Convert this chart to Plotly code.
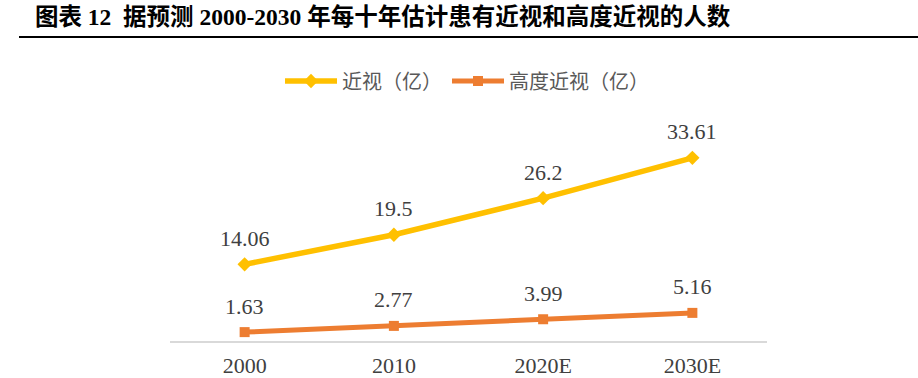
import plotly.graph_objects as go

categories = ["2000", "2010", "2020E", "2030E"]
myopia = [14.06, 19.5, 26.2, 33.61]
high_myopia = [1.63, 2.77, 3.99, 5.16]
series_names = ["近视（亿）", "高度近视（亿）"]
title_text = "图表 12  据预测 2000-2030 年每十年估计患有近视和高度近视的人数"

W, H = 918, 378
L, R, T, B = 170, 151, 123, 37
pw, ph = W - L - R, H - T - B

YELLOW = "#FFC000"
ORANGE = "#ED7D31"
LABEL = "#404040"

fig = go.Figure()
fig.add_trace(go.Scatter(
    x=categories, y=myopia, name=series_names[0], mode="lines+markers",
    line=dict(color=YELLOW, width=5.5),
    marker=dict(symbol="diamond", size=11, color=YELLOW),
))
fig.add_trace(go.Scatter(
    x=categories, y=high_myopia, name=series_names[1], mode="lines+markers",
    line=dict(color=ORANGE, width=5),
    marker=dict(symbol="square", size=10, color=ORANGE),
))

annotations = []
for vals in (myopia, high_myopia):
    for i, v in enumerate(vals):
        annotations.append(dict(
            x=i, y=v, xref="x", yref="y", text=f"{v:g}", showarrow=False,
            yshift=26, font=dict(family="Liberation Serif", size=22, color=LABEL),
        ))

fig.update_layout(
    width=W, height=H,
    margin=dict(l=L, r=R, t=T, b=B, autoexpand=False),
    paper_bgcolor="white", plot_bgcolor="white",
    title=dict(
        text=title_text, x=35 / W, xanchor="left", y=1 - 17 / H, yanchor="middle",
        font=dict(family="Liberation Serif, Noto Sans CJK SC", size=23.5, color="#000000",
                  weight="bold"),
    ),
    showlegend=True,
    legend=dict(
        orientation="h", x=(467 - L) / pw, xanchor="center",
        y=(H - B - 81) / ph, yanchor="middle",
        font=dict(family="Noto Sans CJK SC", size=20, color="#595959"),
        itemwidth=52, itemsizing="trace",
    ),
    xaxis=dict(
        type="category", range=[-0.5, 3.5], showgrid=False, zeroline=False,
        showline=True, linecolor="#D9D9D9", linewidth=1.5, ticks="",
        tickfont=dict(family="Liberation Serif", size=22, color=LABEL),
        ticklabelstandoff=4,
    ),
    yaxis=dict(
        range=[0, 40], showgrid=False, zeroline=False, showline=False,
        showticklabels=False, ticks="",
    ),
    annotations=annotations,
    shapes=[dict(
        type="line", xref="paper", yref="paper",
        x0=(19 - L) / pw, x1=(W - L) / pw,
        y0=(H - B - 37) / ph, y1=(H - B - 37) / ph,
        line=dict(color="#000000", width=2),
    )],
)

fig.write_html("out.html", config={"displayModeBar": False},
               post_script="document.body.style.margin='0';")
